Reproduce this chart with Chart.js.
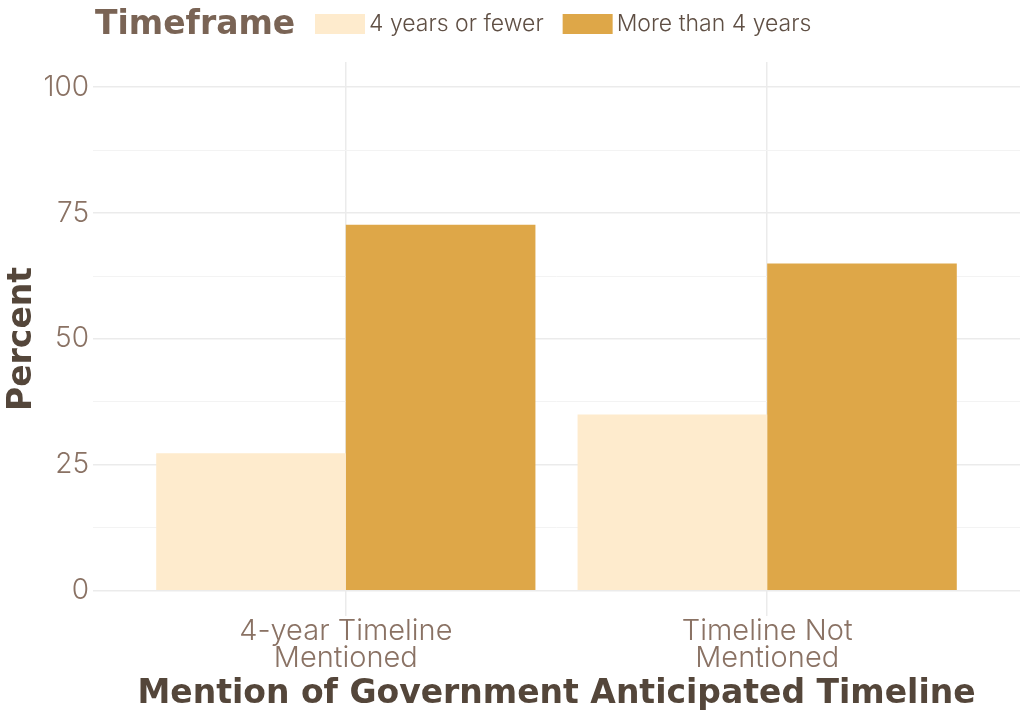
<!DOCTYPE html>
<html>
<head>
<meta charset="utf-8">
<script src="https://cdn.jsdelivr.net/npm/chart.js@4.4.1/dist/chart.umd.min.js"></script>
<style>
    body { margin: 0; background: #ffffff; }
    #wrap { width: 1024px; height: 713px; }
</style>
</head>
<body>
<div id="wrap"><canvas id="timelineChart" width="1024" height="713"></canvas></div>
<script>
// Data
const categories = [['4-year Timeline', 'Mentioned'], ['Timeline Not', 'Mentioned']];
const seriesLabels = ['4 years or fewer', 'More than 4 years'];
const fewerValues = [27.3, 35.0];
const moreValues = [72.7, 65.0];
const yTicks = [0, 25, 50, 75, 100];
const legendTitle = 'Timeframe';
const xTitle = 'Mention of Government Anticipated Timeline';
const yTitle = 'Percent';

const colors = ['#feebcd', '#dea748'];
const lightFont = 'Inter';
const boldFont = 'DejaVu Sans';
const tickColor = '#8a7264';
const titleColor = '#54463a';

// minor grid lines sit half way between the major ticks
const yMinor = yTicks.slice(1).map((v, i) => (v + yTicks[i]) / 2);

// legend with its title on the same line, drawn above the plot
const inlineLegend = {
    id: 'inlineLegend',
    afterDraw(chart) {
        const ctx = chart.ctx;
        const y = 24;
        ctx.save();
        ctx.textBaseline = 'middle';
        ctx.textAlign = 'left';
        ctx.font = `bold 33px "${boldFont}"`;
        ctx.fillStyle = '#7a6455';
        ctx.fillText(legendTitle, 95, y + 1);
        let x = 315;
        ctx.font = `300 23px "${lightFont}"`;
        chart.data.datasets.forEach(ds => {
            ctx.fillStyle = ds.backgroundColor;
            ctx.fillRect(x, 14, 50, 20);
            x += 54;
            ctx.fillStyle = '#5f4f44';
            ctx.fillText(ds.label, x, y);
            x += ctx.measureText(ds.label).width + 19;
        });
        ctx.restore();
    }
};

new Chart(document.getElementById('timelineChart').getContext('2d'), {
    type: 'bar',
    data: {
        datasets: [{
            label: seriesLabels[0],
            data: fewerValues.map((v, i) => ({ x: i, y: v })),
            backgroundColor: colors[0]
        }, {
            label: seriesLabels[1],
            data: moreValues.map((v, i) => ({ x: i, y: v })),
            backgroundColor: colors[1]
        }]
    },
    options: {
        responsive: false,
        animation: false,
        layout: { padding: { top: 62, right: 4, left: 0, bottom: 0 } },
        datasets: {
            bar: { categoryPercentage: 0.9, barPercentage: 1.0 }
        },
        plugins: {
            legend: { display: false },
            tooltip: { enabled: false }
        },
        scales: {
            x: {
                type: 'linear',
                offset: false,
                min: -0.6,
                max: categories.length - 1 + 0.6,
                afterBuildTicks: scale => {
                    scale.ticks = categories.map((c, i) => ({ value: i }));
                },
                afterFit: scale => { scale.height = 97; },
                border: { display: false },
                grid: { offset: false, color: '#ebebeb', lineWidth: 1.5, drawTicks: false },
                ticks: {
                    padding: 2,
                    color: tickColor,
                    font: { family: lightFont, weight: 300, size: 29, lineHeight: 0.93 },
                    callback: value => categories[value]
                },
                title: {
                    display: true,
                    text: xTitle,
                    color: titleColor,
                    font: { family: boldFont, weight: 'bold', size: 33, lineHeight: 1.1 },
                    padding: { top: 0, bottom: 0 }
                }
            },
            y: {
                min: -5,
                max: 105,
                afterBuildTicks: scale => {
                    scale.ticks = yTicks.concat(yMinor).sort((a, b) => a - b).map(v => ({ value: v }));
                },
                afterFit: scale => { scale.width = 93; },
                border: { display: false },
                grid: {
                    drawTicks: false,
                    color: ctx => yTicks.includes(ctx.tick.value) ? '#ebebeb' : '#f3f3f3',
                    lineWidth: ctx => yTicks.includes(ctx.tick.value) ? 1.5 : 1
                },
                ticks: {
                    padding: 4,
                    color: tickColor,
                    font: { family: lightFont, weight: 300, size: 28 },
                    callback: value => yTicks.includes(value) ? String(value) : ''
                },
                title: {
                    display: true,
                    text: yTitle,
                    color: titleColor,
                    font: { family: boldFont, weight: 'bold', size: 33, lineHeight: 1.1 },
                    padding: { top: 4, bottom: 0 }
                }
            }
        }
    },
    plugins: [inlineLegend]
});
</script>
</body>
</html>
